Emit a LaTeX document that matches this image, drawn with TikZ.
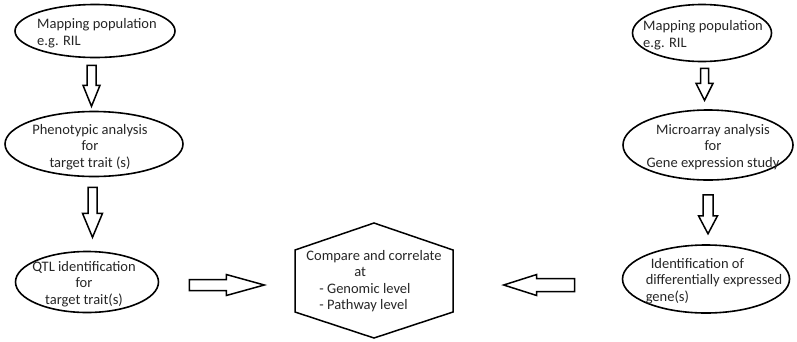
\documentclass[tikz,border=0pt]{standalone}
\usepackage{fontspec}
\setmainfont{Carlito}
\usetikzlibrary{shapes.geometric,calc}
\tikzset{
  ell/.style={draw, line width=1.6pt, ellipse, inner sep=0pt},
  txt/.style={font=\fontsize{14.5}{16.5}\selectfont, inner sep=0pt, text=black!85},
  blk/.style={draw, line width=1.5pt, line join=miter, fill=white},
  hexa/.style={draw, line width=1.5pt, line join=miter}
}
\newcommand\blockarrow[5]{%
  \coordinate (ba-s) at (#1);
  \coordinate (ba-e) at (#2);
  \coordinate (ba-h) at ($(ba-e)!#5!(ba-s)$);
  \draw[blk] ($(ba-s)!#3!90:(ba-e)$) -- ($(ba-h)!#3!90:(ba-e)$) -- ($(ba-h)!#4!90:(ba-e)$) -- (ba-e)
    -- ($(ba-h)!#4!-90:(ba-e)$) -- ($(ba-h)!#3!-90:(ba-e)$) -- ($(ba-s)!#3!-90:(ba-e)$) -- cycle;}
\begin{document}
\begin{tikzpicture}[x=1pt, y=-1pt]
\useasboundingbox (0,0) rectangle (797,341);
% left column
\node[ell, minimum width=160pt, minimum height=53pt] (L1) at (95,31) {};
\node[txt, align=left] (L1t) at (97,33) {Mapping population\\e.g. RIL};
\node[ell, minimum width=178pt, minimum height=65pt] (L2) at (94,144) {};
\node[txt, align=center] (L2t) at (90,147) {Phenotypic analysis\\for\\target trait (s)};
\node[ell, minimum width=143pt, minimum height=61pt] (L3) at (87,282) {};
\node[txt, align=center] (L3t) at (84,284) {QTL identification\\for\\target trait(s)};
% right column
\node[ell, minimum width=139pt, minimum height=57pt] (R1) at (702,33) {};
\node[txt, align=left] (R1t) at (703,35) {Mapping population\\e.g. RIL};
\node[ell, minimum width=170pt, minimum height=70pt] (R2) at (708,145) {};
\node[txt, align=center] (R2t) at (713,147) {Microarray analysis\\for\\Gene expression study};
\node[ell, minimum width=167pt, minimum height=68pt] (R3) at (706,279) {};
\node[txt, align=left] (R3t) at (714,281) {\hspace*{5pt}Identification of\\differentially expressed\\gene(s)};
% hexagon
\coordinate (H) at (374,281);
\draw[hexa] (374,223) -- (453,250) -- (453,312) -- (374,338) -- (295,312) -- (295,250) -- cycle;
\node[txt, align=left] (Ht) at (H) {Compare and correlate\\\hspace*{48pt}at\\\hspace*{13pt}- Genomic level\\\hspace*{13pt}- Pathway level};
% block arrows
\blockarrow{$(L1.south)+(-3.5,7)$}{$(L1.south)+(-3.5,48)$}{4.5pt}{8.5pt}{21pt}
\blockarrow{$(L2.south)+(-1.5,10)$}{$(L2.south)+(-1.5,60)$}{4.5pt}{10pt}{24pt}
\blockarrow{$(R1.south)+(2.5,6)$}{$(R1.south)+(2.5,38)$}{4pt}{8.5pt}{17pt}
\blockarrow{$(R2.south)+(0,14)$}{$(R2.south)+(0,53)$}{5pt}{9.5pt}{18pt}
\blockarrow{$(L3.east)+(30,3)$}{$(L3.east)+(105,3)$}{5.5pt}{10.5pt}{38pt}
\blockarrow{$(R3.west)+(-47,6)$}{$(R3.west)+(-118,6)$}{6.5pt}{10.5pt}{33pt}
\end{tikzpicture}
\end{document}
